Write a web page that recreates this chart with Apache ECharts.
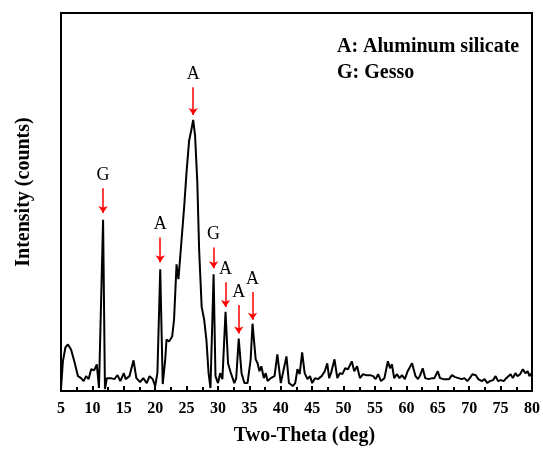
<!DOCTYPE html>
<html>
<head>
<meta charset="utf-8">
<script src="https://cdn.jsdelivr.net/npm/echarts@6/dist/echarts.min.js"></script>
<style>
  html, body { margin: 0; padding: 0; background: #fff; }
  #chart { width: 543px; height: 451px; }
</style>
</head>
<body>
<div id="chart"></div>
<script>
// two-theta positions (deg) and intensity
var twoTheta = [
  5.0, 5.3, 5.7, 6.1, 6.6, 7.2, 7.7, 8.2, 8.6, 9.0, 9.4, 9.8, 10.3, 10.7, 11.05, 11.7, 12.0,
  12.3, 12.95, 13.5, 14.0, 14.45, 15.0, 15.3, 15.9, 16.55, 17.0, 17.6, 18.1, 18.65, 19.1, 19.6,
  20.0, 20.35, 20.8, 21.2, 21.6, 21.8, 22.2, 22.7, 23.0, 23.4, 23.7, 24.1, 24.6, 25.0, 25.4,
  25.7, 26.05, 26.35, 26.7, 27.0, 27.4, 27.8, 28.15, 28.5, 28.8, 29.3, 29.6, 30.0, 30.35, 30.7,
  31.2, 31.6, 32.05, 32.6, 32.9, 33.3, 33.75, 34.2, 34.7, 35.2, 35.5, 36.0, 36.3, 36.6, 36.9,
  37.3, 37.6, 37.9, 38.4, 39.0, 39.45, 40.0, 40.3, 40.9, 41.3, 41.9, 42.3, 42.65, 43.0, 43.4,
  43.8, 44.25, 44.65, 45.0, 45.45, 45.9, 46.5, 47.0, 47.4, 47.7, 48.0, 48.55, 49.0, 49.4, 49.8,
  50.25, 50.7, 51.3, 51.7, 52.15, 52.6, 53.1, 53.6, 54.2, 54.7, 55.1, 55.5, 55.95, 56.5, 57.05,
  57.4, 57.7, 58.05, 58.5, 58.9, 59.3, 59.75, 60.2, 60.9, 61.45, 61.85, 62.2, 62.6, 63.0, 63.55,
  64.1, 64.45, 65.0, 65.35, 65.9, 66.4, 66.8, 67.25, 67.75, 68.3, 68.8, 69.25, 69.7, 70.1, 70.5,
  71.05, 71.45, 72.0, 72.45, 72.9, 73.3, 73.8, 74.2, 74.6, 75.05, 75.5, 75.9, 76.2, 76.6, 76.95,
  77.35, 77.7, 78.1, 78.55, 78.95, 79.3, 79.6, 79.9
];
var counts = [
  2, 30, 44, 47, 42, 28, 15, 13, 10, 15, 12, 22, 21, 27, 3, 173, 2,
  13, 13, 12, 16, 10, 18, 12, 15, 31, 13, 9, 13, 8, 15, 12,
  5, 18, 123, 7, 32, 52, 50, 55, 72, 128, 113, 145, 185, 222, 253,
  262, 274, 258, 212, 142, 85, 72, 52, 18, 3, 118, 15, 8, 18, 12,
  80, 28, 18, 8, 13, 53, 18, 8, 8, 32, 68, 32, 28, 20, 25,
  13, 18, 10, 13, 15, 37, 8, 10, 35, 8, 5, 8, 22, 17, 39,
  18, 12, 15, 8, 13, 12, 15, 20, 28, 13, 18, 32, 13, 18, 17,
  23, 22, 30, 20, 25, 13, 17, 16, 16, 15, 12, 17, 10, 13, 30,
  23, 27, 13, 17, 13, 16, 12, 20, 28, 15, 12, 16, 23, 13, 12,
  13, 13, 20, 13, 12, 12, 12, 16, 14, 13, 12, 13, 10, 13, 17,
  16, 12, 10, 12, 8, 10, 11, 15, 10, 11, 10, 13, 12, 17, 13,
  18, 15, 17, 22, 18, 20, 15, 18
];

// peak markers: phase letter, position, arrow tail / head intensity
var peakNames = ['G', 'A', 'A', 'G', 'A', 'A', 'A'];
var peakPos = [11.7, 20.8, 26.05, 29.3, 31.2, 33.3, 35.5];
var arrowTail = [205, 155, 307, 145, 110, 87, 100];
var arrowHead = [180, 130, 279, 124, 85, 58, 72];

var serif = "'Liberation Serif', 'DejaVu Serif', serif";

var chart = echarts.init(document.getElementById('chart'));

var lineData = twoTheta.map(function (t, i) { return [t, counts[i]]; });
var arrows = peakPos.map(function (p, i) {
  return [
    { name: peakNames[i], coord: [p, arrowTail[i]] },
    { coord: [p, arrowHead[i]] }
  ];
});

var option = {
  animation: false,
  title: {
    text: 'A: Aluminum silicate\nG: Gesso',
    left: 332,
    top: 29,
    textStyle: {
      fontFamily: serif,
      fontSize: 20,
      fontWeight: 'bold',
      color: '#000',
      lineHeight: 26
    }
  },
  grid: {
    left: 61,
    right: 8,
    top: 13,
    bottom: 55,
    show: true,
    borderColor: '#000',
    borderWidth: 2
  },
  xAxis: {
    type: 'value',
    min: 5,
    max: 80,
    interval: 5,
    name: 'Two-Theta (deg)',
    nameLocation: 'middle',
    nameGap: 35,
    nameTextStyle: { fontFamily: serif, fontSize: 20, fontWeight: 'bold', color: '#000', padding: [0, 0, 0, 16] },
    axisLine: { lineStyle: { color: '#000', width: 2 } },
    axisTick: { inside: true, length: 5, lineStyle: { color: '#000', width: 2 } },
    minorTick: { show: true, splitNumber: 2, length: 4, lineStyle: { color: '#000', width: 2 } },
    axisLabel: { fontFamily: serif, fontSize: 16, fontWeight: 'bold', color: '#000', margin: 10 },
    splitLine: { show: false }
  },
  yAxis: {
    type: 'value',
    min: 0,
    max: 382,
    name: 'Intensity (counts)',
    nameLocation: 'middle',
    nameGap: 27,
    nameTextStyle: { fontFamily: serif, fontSize: 20, fontWeight: 'bold', color: '#000', padding: [0, 0, 0, 20] },
    axisLine: { show: true, lineStyle: { color: '#000', width: 2 } },
    axisTick: { show: false },
    axisLabel: { show: false },
    splitLine: { show: false }
  },
  series: [{
    type: 'line',
    data: lineData,
    showSymbol: false,
    silent: true,
    lineStyle: { color: '#000', width: 2 },
    markLine: {
      silent: true,
      symbol: ['none', 'arrow'],
      symbolSize: 7,
      lineStyle: { color: '#ff0000', width: 1.5, type: 'solid' },
      itemStyle: { color: '#ff0000' },
      label: {
        show: true,
        position: 'start',
        formatter: '{b}',
        fontFamily: serif,
        fontSize: 18,
        color: '#000',
        distance: 4
      },
      data: arrows
    }
  }]
};

chart.setOption(option);
</script>
</body>
</html>
